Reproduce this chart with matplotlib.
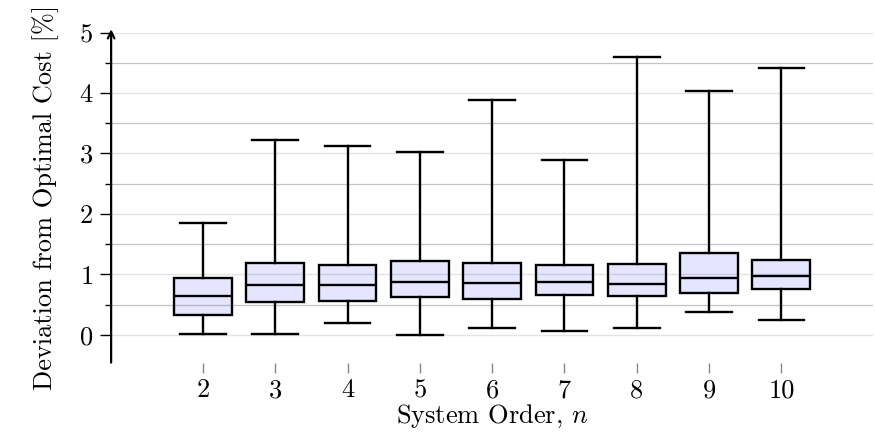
import matplotlib
matplotlib.use("Agg")
import matplotlib.pyplot as plt
from matplotlib.ticker import MultipleLocator

plt.rcParams['font.family'] = 'serif'
plt.rcParams['font.serif'] = ['cmr10']
plt.rcParams['mathtext.fontset'] = 'cm'
plt.rcParams['axes.formatter.use_mathtext'] = True

# box statistics
orders = [2, 3, 4, 5, 6, 7, 8, 9, 10]
whis_low = [0.01, 0.01, 0.20, 0.00, 0.12, 0.07, 0.11, 0.38, 0.25]
q1 = [0.32, 0.54, 0.56, 0.63, 0.59, 0.65, 0.64, 0.69, 0.76]
medians = [0.645, 0.83, 0.83, 0.88, 0.86, 0.875, 0.84, 0.94, 0.98]
q3 = [0.94, 1.19, 1.15, 1.22, 1.19, 1.16, 1.17, 1.36, 1.23]
whis_high = [1.85, 3.22, 3.12, 3.03, 3.88, 2.89, 4.60, 4.03, 4.42]

stats = []
for i in range(len(orders)):
    stats.append({'med': medians[i], 'q1': q1[i], 'q3': q3[i],
                  'whislo': whis_low[i], 'whishi': whis_high[i], 'fliers': []})

fig = plt.figure(figsize=(8.75, 4.4), dpi=100)
ax = fig.add_axes([0.127, 0.176, 0.871, 0.75])

lw = 1.7
ax.bxp(stats, positions=orders, widths=0.8, capwidths=0.63, patch_artist=True,
       showfliers=False,
       boxprops=dict(facecolor=(0, 0, 1, 0.1), edgecolor='black', linewidth=lw),
       medianprops=dict(color='black', linewidth=lw),
       whiskerprops=dict(color='black', linewidth=lw),
       capprops=dict(color='black', linewidth=lw))

ax.set_xlim(0.73, 11.27)
ax.set_ylim(-0.46, 5)
ax.set_xticks(orders)
ax.set_xticklabels([str(o) for o in orders])
ax.yaxis.set_major_locator(MultipleLocator(1))
ax.yaxis.set_minor_locator(MultipleLocator(0.5))

ax.grid(True, which='major', axis='y', color='#e3e3e3', linewidth=1.0)
ax.grid(True, which='minor', axis='y', color='#c4c4c4', linewidth=0.9)
ax.set_axisbelow(True)

for side in ['top', 'right', 'bottom', 'left']:
    ax.spines[side].set_visible(False)
ax.annotate('', xy=(0, 1.01), xycoords='axes fraction', xytext=(0, 0),
            textcoords='axes fraction',
            arrowprops=dict(arrowstyle='->', color='black', lw=1.6,
                            shrinkA=0, shrinkB=0, mutation_scale=12))

ax.tick_params(axis='y', which='major', length=8, width=1.0, color='black',
               labelsize=19, pad=5)
ax.tick_params(axis='y', which='minor', length=4, width=1.0, color='black')
ax.tick_params(axis='x', which='major', length=7.5, width=1.0, color='#888888',
               labelsize=19, pad=4)

ax.set_xlabel(r'System Order, $n$', fontsize=19, labelpad=0)
ax.set_ylabel('Deviation from Optimal Cost [%]', fontsize=19, labelpad=14)

fig.savefig('out.png', dpi=100)
